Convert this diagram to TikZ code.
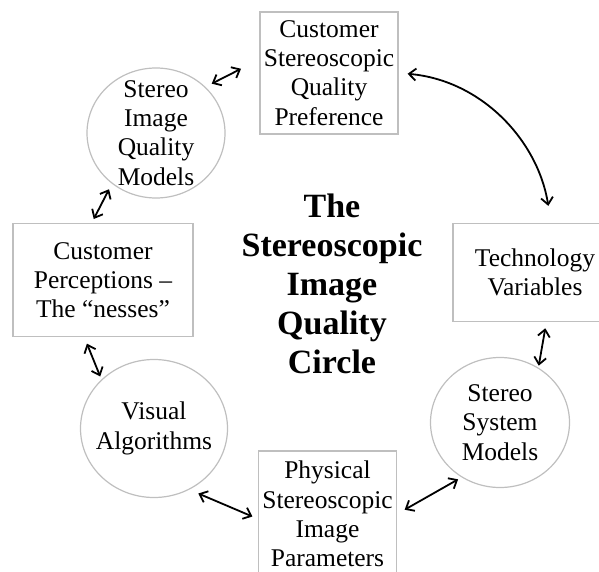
\documentclass[tikz,border=0pt]{standalone}
\usepackage{fontspec}
\setmainfont{Liberation Serif}
\usetikzlibrary{arrows.meta,shapes.geometric}
\definecolor{Rim}{HTML}{BFBFBF}

\begin{document}
\begin{tikzpicture}[x=1pt,y=1pt,
  box/.style={rectangle,draw=Rim,line width=1.2pt,inner sep=0pt,align=center,font=\fontsize{25.5}{29.3}\selectfont},
  bubble/.style={ellipse,draw=Rim,line width=1.2pt,inner sep=-12pt,align=center,font=\fontsize{25.5}{29.3}\selectfont},
  heading/.style={align=center,font=\fontsize{34}{39}\selectfont\bfseries},
  arrow/.style={{Straight Barb[length=7pt,width=12pt]}-{Straight Barb[length=7pt,width=12pt]},line width=1.8pt}
]
\useasboundingbox (0,0) rectangle (599,-572);
\node[box,minimum width=138pt,minimum height=122pt] (pref) at (329,-73) {Customer\\Stereoscopic\\Quality\\Preference};
\node[bubble,minimum width=138pt,minimum height=130pt] (siqm) at (156,-133) {Stereo\\Image\\Quality\\Models};
\node[box,minimum width=180pt,minimum height=113.5pt] (percep) at (103,-280) {Customer\\Perceptions –\\The “nesses”};
\node[bubble,minimum width=147pt,minimum height=138pt] (visual) at (154,-428.5) {Visual\\Algorithms};
\node[box,minimum width=138pt,minimum height=126pt] (phys) at (327.5,-514) {Physical\\Stereoscopic\\Image\\Parameters};
\node[bubble,minimum width=139pt,minimum height=130pt] (ssm) at (500,-422.5) {Stereo\\System\\Models};
\node[box,minimum width=164pt,minimum height=97.5pt] (tech) at (535,-272.5) {Technology\\Variables};
\node[heading] (circ) at (332,-284) {The\\Stereoscopic\\Image\\Quality\\Circle};
% links round the circle
\draw[arrow,shorten <=7pt,shorten >=20.6pt] (siqm.43) -- (pref.169);
\draw[arrow,shorten <=9pt,shorten >=17.5pt] (pref.east) to[out=-5,in=99] (tech.72);
\draw[arrow,shorten <=6.5pt,shorten >=2pt] (tech.283) -- (ssm.55);
\draw[arrow,shorten <=4pt,shorten >=8.7pt] (ssm.235) -- (phys.east);
\draw[arrow,shorten <=6pt,shorten >=9.8pt] (phys.184) -- (visual.-60);
\draw[arrow,shorten <=6.8pt,shorten >=3.2pt] (percep.252) -- (visual.137);
\draw[arrow,shorten <=4.1pt,shorten >=6.2pt] (percep.101) -- (siqm.229);
\end{tikzpicture}
\end{document}
